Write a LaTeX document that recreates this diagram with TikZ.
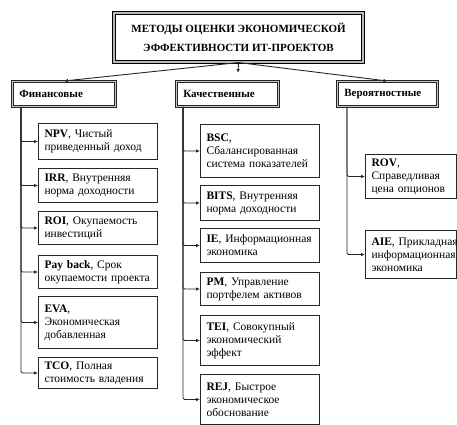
\documentclass[tikz,border=0pt]{standalone}
\usepackage{fontspec}
\setmainfont{Liberation Serif}
\usetikzlibrary{arrows.meta,positioning}
\newcommand{\itemw}{119pt}
\newcommand{\rightw}{91pt}
\newcommand{\xsep}{6pt}

\begin{document}
\begin{tikzpicture}[x=1pt, y=-1pt,
    titlebox/.style = {draw=black, line width=1.1pt, double=gray!55, double distance=1.1pt,
                       fill=white, align=center, inner sep=0pt,
                       minimum width=249pt, minimum height=49pt,
                       font=\fontsize{11}{19}\selectfont\bfseries},
    catbox/.style = {draw=black!85, line width=0.8pt, double=gray!45, double distance=0.8pt,
                     anchor=north west, align=left, inner xsep=7pt, inner ysep=0pt,
                     minimum height=25pt, font=\fontsize{11}{12}\selectfont\bfseries},
    item/.style = {draw=black!85, line width=1pt, anchor=north west, align=left,
                   inner xsep=\xsep, inner ysep=0pt, text width=\itemw-2*\xsep,
                   font=\fontsize{11.5}{13}\selectfont},
    ritem/.style = {item, text width=\rightw-2*\xsep},
    arr/.style = {draw=black!85, line width=0.9pt, -{Latex[length=4pt,width=3.5pt]}}]
    \useasboundingbox (0,0) rectangle (457,424);
    %\draw[help lines, step=10pt] (0,0) grid (457,424);

    % top
    \node[titlebox] (title) at (238.5,37.5) {МЕТОДЫ ОЦЕНКИ ЭКОНОМИЧЕСКОЙ\\ЭФФЕКТИВНОСТИ ИТ-ПРОЕКТОВ};

    % groups
    \node[catbox, text width=103pt-14pt] (fin) at (12,81) {Финансовые};
    \node[catbox, text width=102pt-14pt] (kach) at (176,81) {Качественные};
    \node[catbox, text width=100pt-14pt] (ver) at (337,81) {Вероятностные};
    \coordinate (kachtip) at (238,73);

    \draw[arr] (title.south) -- (fin.north);
    \draw[arr] (title.south) -- (kachtip);
    \draw[arr] (title.south) -- (ver.north);

    % financial
    \node[item, minimum height=36pt] (npv) at (38,123) {\textbf{NPV}, Чистый\\приведенный доход};
    \node[item, minimum height=34pt] (irr) at (38,168) {\textbf{IRR}, Внутренняя\\норма доходности};
    \node[item, minimum height=33pt] (roi) at (38,211) {\textbf{ROI}, Окупаемость\\инвестиций};
    \node[item, minimum height=33pt] (pay) at (38,255) {\textbf{Pay back}, Срок\\окупаемости проекта};
    \node[item, minimum height=52pt] (eva) at (38,296) {\textbf{EVA},\\Экономическая\\добавленная};
    \node[item, minimum height=31pt] (tco) at (38,357) {\textbf{TCO}, Полная\\стоимость владения};
    \foreach \n in {npv,irr,roi,pay,eva,tco}
        \draw[arr, rounded corners=1.5pt] ([xshift=9pt]fin.south west) |- (\n.west);

    % qualitative
    \node[item, minimum height=53pt] (bsc) at (200,124) {\textbf{BSC},\\Сбалансированная\\система показателей};
    \node[item, minimum height=35pt] (bits) at (200,185) {\textbf{BITS}, Внутренняя\\норма доходности};
    \node[item, minimum height=34pt] (ie) at (200,228) {\textbf{IE}, Информационная\\экономика};
    \node[item, minimum height=33pt] (pm) at (200,272) {\textbf{PM}, Управление\\портфелем активов};
    \node[item, minimum height=50pt] (tei) at (200,315) {\textbf{TEI}, Совокупный\\экономический\\эффект};
    \node[item, minimum height=50pt] (rej) at (200,374) {\textbf{REJ}, Быстрое\\экономическое\\обоснование};
    \foreach \n in {bsc,bits,ie,pm,tei,rej}
        \draw[arr, rounded corners=1.5pt] ([xshift=7pt]kach.south west) |- (\n.west);

    % probabilistic
    \node[ritem, minimum height=44pt] (rov) at (365,154) {\textbf{ROV},\\Справедливая\\цена опционов};
    \node[ritem, minimum height=48pt] (aie) at (365,230) {\mbox{\textbf{AIE}, Прикладная}\\\mbox{информационная}\\экономика};
    \foreach \n in {rov,aie}
        \draw[arr, rounded corners=1.5pt] ([xshift=10pt]ver.south west) |- (\n.west);
\end{tikzpicture}
\end{document}
